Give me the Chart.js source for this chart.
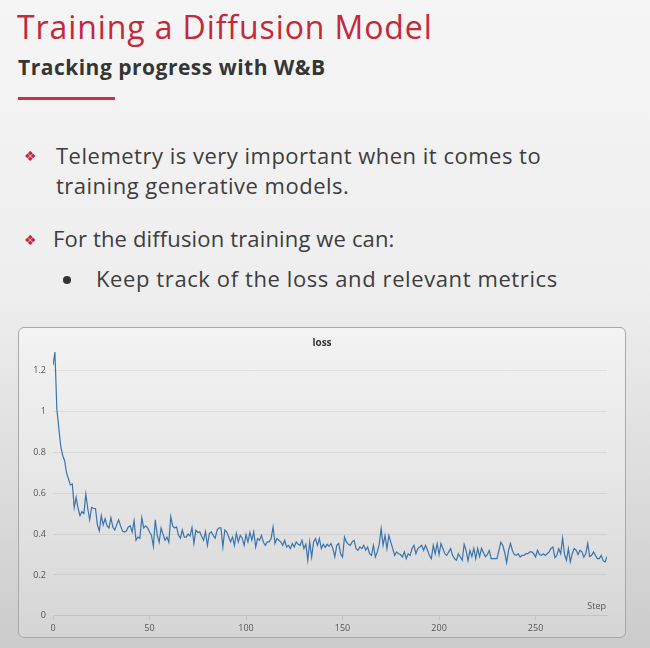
<!DOCTYPE html>
<html>
<head>
<meta charset="utf-8">
<script src="https://cdn.jsdelivr.net/npm/chart.js@4.4.1/dist/chart.umd.min.js"></script>
<style>
  html, body { margin: 0; padding: 0; }
  body {
    width: 650px; height: 648px; overflow: hidden; position: relative;
    background: linear-gradient(#f5f5f5 0%, #eeeeee 45%, #d9d9d9 80%, #cbcbcb 100%);
    font-family: "Open Sans", sans-serif;
  }
  .title {
    position: absolute; left: 17px; top: 5px; margin: 0;
    font-size: 32px; font-weight: 400; letter-spacing: 0.9px; color: #c3283b; white-space: nowrap;
  }
  .subtitle {
    position: absolute; left: 18px; top: 53px; margin: 0;
    font-size: 21px; font-weight: 700; letter-spacing: 0.5px; color: #353535; white-space: nowrap;
  }
  .rule {
    position: absolute; left: 18px; top: 97px; width: 97px; height: 3px; background: #c8333f;
  }
  .line {
    position: absolute; font-size: 22px; letter-spacing: 0.5px; color: #3d3d3d; white-space: nowrap;
  }
  .diamond {
    position: absolute; font-family: "DejaVu Sans"; font-size: 14px; color: #c3283b;
  }
  .dot {
    position: absolute; width: 8px; height: 8px; border-radius: 50%; background: #333;
  }
  .box {
    position: absolute; left: 18px; top: 327px; width: 606px; height: 309px;
    border: 1px solid #a9a9a9; border-radius: 6px;
    background: linear-gradient(#f3f3f3 0%, #e6e6e6 50%, #d5d5d5 100%);
  }
  .box .wrap { position: absolute; left: 0; top: 0; width: 606px; height: 309px; }
</style>
</head>
<body>
<h1 class="title">Training a Diffusion Model</h1>
<h2 class="subtitle">Tracking progress with W&amp;B</h2>
<div class="rule"></div>

<span class="diamond" style="left:24px; top:148px;">❖</span>
<div class="line" style="left:56px; top:140px;">Telemetry is very important when it comes to</div>
<div class="line" style="left:56px; top:170px;">training generative models.</div>
<span class="diamond" style="left:24px; top:232px;">❖</span>
<div class="line" style="left:53px; top:223px; letter-spacing:0.15px;">For the diffusion training we can:</div>
<div class="dot" style="left:63px; top:276px;"></div>
<div class="line" style="left:96px; top:263px; letter-spacing:0.6px;">Keep track of the loss and relevant metrics</div>

<div class="box"><div class="wrap"><canvas id="chart"></canvas></div></div>

<script>
const lossValues = [
  1.225, 1.29, 1.01, 0.92, 0.83, 0.785, 0.76, 0.70, 0.67, 0.64,
  0.645, 0.53, 0.58, 0.525, 0.49, 0.51, 0.50, 0.595, 0.525, 0.47,
  0.53, 0.525, 0.525, 0.445, 0.415, 0.49, 0.445, 0.475, 0.44, 0.43,
  0.48, 0.435, 0.42, 0.445, 0.47, 0.44, 0.415, 0.41, 0.415, 0.435,
  0.44, 0.41, 0.465, 0.37, 0.385, 0.38, 0.48, 0.43, 0.44, 0.43,
  0.41, 0.395, 0.34, 0.47, 0.395, 0.36, 0.43, 0.40, 0.37, 0.385,
  0.36, 0.485, 0.44, 0.43, 0.435, 0.395, 0.38, 0.42, 0.385, 0.385,
  0.40, 0.39, 0.432, 0.354, 0.419, 0.408, 0.411, 0.39, 0.37, 0.411,
  0.345, 0.403, 0.411, 0.394, 0.38, 0.42, 0.43, 0.43, 0.337, 0.42,
  0.41, 0.386, 0.362, 0.386, 0.345, 0.403, 0.362, 0.394, 0.38, 0.345,
  0.398, 0.362, 0.408, 0.37, 0.411, 0.337, 0.378, 0.37, 0.394, 0.36,
  0.345, 0.362, 0.362, 0.378, 0.435, 0.354, 0.378, 0.37, 0.362, 0.345,
  0.37, 0.337, 0.345, 0.329, 0.354, 0.337, 0.362, 0.35, 0.345, 0.37,
  0.329, 0.35, 0.272, 0.362, 0.288, 0.362, 0.378, 0.345, 0.378, 0.329,
  0.35, 0.335, 0.35, 0.34, 0.354, 0.329, 0.288, 0.345, 0.354, 0.304,
  0.288, 0.386, 0.362, 0.35, 0.345, 0.362, 0.37, 0.329, 0.321, 0.337,
  0.329, 0.345, 0.321, 0.337, 0.304, 0.296, 0.345, 0.288, 0.313, 0.35,
  0.427, 0.345, 0.394, 0.329, 0.394, 0.36, 0.329, 0.296, 0.313, 0.304,
  0.30, 0.288, 0.313, 0.28, 0.304, 0.296, 0.329, 0.345, 0.304, 0.329,
  0.337, 0.345, 0.321, 0.345, 0.321, 0.296, 0.28, 0.345, 0.304, 0.354,
  0.30, 0.354, 0.329, 0.304, 0.296, 0.313, 0.329, 0.296, 0.28, 0.272,
  0.304, 0.288, 0.272, 0.35, 0.32, 0.27, 0.32, 0.29, 0.33, 0.28,
  0.33, 0.29, 0.33, 0.31, 0.29, 0.30, 0.32, 0.28, 0.28, 0.28,
  0.28, 0.32, 0.36, 0.345, 0.31, 0.26, 0.32, 0.354, 0.32, 0.30,
  0.296, 0.304, 0.288, 0.296, 0.296, 0.304, 0.304, 0.313, 0.313, 0.304,
  0.288, 0.321, 0.30, 0.296, 0.304, 0.296, 0.304, 0.313, 0.33, 0.337,
  0.285, 0.296, 0.329, 0.304, 0.381, 0.30, 0.272, 0.329, 0.264, 0.304,
  0.329, 0.321, 0.30, 0.321, 0.313, 0.288, 0.304, 0.354, 0.29, 0.296,
  0.313, 0.296, 0.28, 0.28, 0.296, 0.27, 0.264, 0.29
];
const steps = lossValues.map((v, i) => i);

const xTicks = [0, 50, 100, 150, 200, 250];
const yTicks = [0, 0.2, 0.4, 0.6, 0.8, 1, 1.2];
const chartTitle = 'loss';
const xTitle = 'Step';

// panel title and the "Step" label sit inside the plot, like W&B does
const panelLabels = {
  id: 'panelLabels',
  afterDraw(chart) {
    const { ctx, chartArea } = chart;
    ctx.save();
    ctx.font = 'bold 10px "Open Sans"';
    ctx.fillStyle = '#333';
    ctx.textAlign = 'center';
    ctx.textBaseline = 'middle';
    ctx.fillText(chartTitle, chart.width / 2, 15);
    ctx.font = '9px "Open Sans"';
    ctx.fillStyle = '#555';
    ctx.textAlign = 'right';
    ctx.fillText(xTitle, chartArea.right - 1, chartArea.bottom - 9);
    ctx.restore();
  }
};

const ctx = document.getElementById('chart').getContext('2d');
const chart = new Chart(ctx, {
  type: 'line',
  data: {
    datasets: [{
      label: chartTitle,
      data: steps.map((s, i) => ({ x: s, y: lossValues[i] })),
      borderColor: '#3b74ad',
      borderWidth: 1.2,
      pointRadius: 0,
      tension: 0,
      fill: false
    }]
  },
  options: {
    responsive: true,
    maintainAspectRatio: false,
    animation: false,
    layout: { padding: { top: 22, right: 18, left: 0, bottom: 0 } },
    plugins: { legend: { display: false }, tooltip: { enabled: false } },
    scales: {
      x: {
        type: 'linear',
        min: 0,
        max: 287,
        afterBuildTicks: (s) => { s.ticks = xTicks.map(v => ({ value: v })); },
        afterFit: (s) => { s.height = 21.1; },
        grid: { drawOnChartArea: false, drawTicks: true, tickLength: 4, color: '#c4c4c4' },
        border: { color: '#c4c4c4' },
        ticks: { font: { family: 'Open Sans', size: 9 }, color: '#555', padding: 3, maxRotation: 0 }
      },
      y: {
        min: 0,
        max: 1.3,
        afterBuildTicks: (s) => { s.ticks = yTicks.map(v => ({ value: v })); },
        afterFit: (s) => { s.width = 34; },
        grid: { drawTicks: false, color: 'rgba(0,0,0,0.07)' },
        border: { display: false },
        ticks: {
          font: { family: 'Open Sans', size: 9 },
          color: '#555',
          padding: 7,
          callback: (v) => String(+v.toFixed(1))
        }
      }
    }
  },
  plugins: [panelLabels]
});
</script>
</body>
</html>
